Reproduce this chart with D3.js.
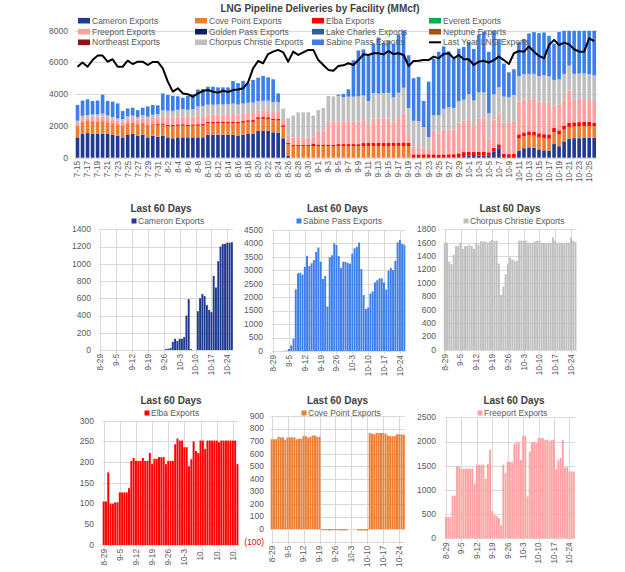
<!DOCTYPE html>
<html><head><meta charset="utf-8">
<script src="https://cdn.jsdelivr.net/npm/d3@7"></script>
<style>body{margin:0;background:#fff} svg{display:block;font-family:"Liberation Sans",Arial,sans-serif}</style>
</head><body><svg id="c" width="625" height="572"></svg>
<script>
// ---------------- DATA ----------------
const dates = ["7-15","7-16","7-17","7-18","7-19","7-20","7-21","7-22","7-23","7-24","7-25","7-26","7-27","7-28","7-29","7-30","7-31",
"8-1","8-2","8-3","8-4","8-5","8-6","8-7","8-8","8-9","8-10","8-11","8-12","8-13","8-14","8-15","8-16","8-17","8-18","8-19","8-20","8-21","8-22","8-23","8-24","8-25","8-26","8-27","8-28","8-29","8-30","8-31",
"9-1","9-2","9-3","9-4","9-5","9-6","9-7","9-8","9-9","9-10","9-11","9-12","9-13","9-14","9-15","9-16","9-17","9-18","9-19","9-20","9-21","9-22","9-23","9-24","9-25","9-26","9-27","9-28","9-29","9-30",
"10-1","10-2","10-3","10-4","10-5","10-6","10-7","10-8","10-9","10-10","10-11","10-12","10-13","10-14","10-15","10-16","10-17","10-18","10-19","10-20","10-21","10-22","10-23","10-24","10-25","10-26"];

// 7-15 .. 8-28
const cameronEarly = [1280,1500,1550,1500,1500,1500,1500,1430,1380,1280,1430,1500,1370,1450,1280,1380,1320,1380,1280,1220,1280,1280,1280,1280,1280,1280,1450,1450,1450,1450,1450,1450,1400,1450,1500,1500,1680,1700,1700,1600,1580,1220,120,0,0];
const coveEarly = [680,720,740,760,760,770,700,720,690,720,700,690,710,700,720,730,750,700,720,760,730,740,720,730,730,740,720,720,730,730,720,730,750,760,760,760,760,750,740,760,760,730,720,715,715];
const elbaEarly = [20,20,30,30,20,30,30,20,30,30,30,20,30,30,40,40,80,80,80,90,90,90,90,90,100,100,100,100,100,100,100,100,100,100,100,110,110,110,110,110,110,100,100,100,100];
const freeportEarly = [200,250,250,280,300,300,280,250,250,250,300,300,300,300,400,400,400,480,500,480,500,500,480,480,520,520,450,450,450,450,480,480,450,450,450,450,400,400,420,420,440,440,450,440,440];
const corpusEarly = [150,150,120,150,150,180,150,150,120,150,150,150,150,200,150,150,200,350,380,400,420,450,450,480,600,620,620,620,620,620,620,650,650,650,650,650,620,620,620,620,600,600,1100,1400,1600];
const sabineEarly = [990,960,990,850,870,1190,910,960,950,510,490,490,440,470,640,620,550,1060,990,950,850,720,880,940,1070,1070,1130,1130,1080,1080,1060,1420,1350,1420,1240,1430,1470,1570,1470,1430,560,0,0,0,0];

// 8-29 .. 10-26 (last 60 days panels)
const cameron60 = [0,0,0,0,0,0,0,0,0,0,0,0,0,0,0,0,0,0,0,0,0,0,0,0,0,0,0,0,0,10,15,25,95,130,105,130,130,150,400,590,10,0,0,450,600,650,625,520,465,440,860,725,1030,1200,1230,1230,1245,1245,1250];
const sabine60 = [0,0,0,0,0,10,15,75,210,460,2290,2890,2910,2840,3130,3540,3160,3260,3380,3680,3850,3320,2680,2790,1650,3490,3560,4000,3940,3530,3090,3320,3320,3270,3250,3620,3820,3870,4030,3050,2080,1560,1620,2140,2220,2550,2630,2700,2700,2550,2290,2990,3090,3010,3350,4040,4130,3980,3950];
const corpus60 = [1600,1600,1320,1280,1420,1550,1550,1600,1510,1550,1550,1570,1550,1510,1600,1570,1620,1620,1620,1600,1620,1640,1630,1630,1290,820,945,1130,1290,1380,1350,1330,1330,1630,1630,1630,1630,1600,1600,1600,1620,1630,1630,1600,1600,1590,1600,1600,1680,1630,1600,1600,1600,1580,1600,1600,1670,1630,1610];
const elba60 = [105,105,175,100,100,103,103,127,127,127,127,137,203,210,203,203,203,210,203,203,222,196,208,208,212,212,212,195,203,203,203,243,257,252,252,236,236,190,207,250,227,222,252,252,232,252,252,252,252,252,248,252,252,252,252,252,252,252,195];
const cove60 = [715,715,715,735,730,730,710,730,730,730,730,715,720,720,740,740,728,735,745,745,735,735,-10,-8,-10,-12,-10,-10,-8,-10,-10,-12,-10,-10,0,0,0,0,-12,-12,-10,-12,-12,765,760,755,765,765,765,765,760,745,740,740,740,755,755,755,750];
const freeport60 = [440,440,440,880,880,1490,1480,1440,1440,1440,1440,1440,1440,1130,1520,1520,1520,1520,1230,1540,1830,560,490,460,420,270,1520,1350,1580,1580,1570,1950,1970,1990,1620,2120,2120,860,1790,1990,1990,1970,2070,2070,2070,2030,2040,2010,2030,2040,1430,1610,1660,2030,1460,1470,1380,1380,1380];

const lastYear = [5730,6000,5730,6150,6430,6430,6050,6200,5730,5730,6110,5900,6050,6050,5840,6030,6030,5630,4790,4160,
4370,4050,4000,3840,4050,4200,4260,4160,4100,4220,4140,4260,4300,4370,4750,5630,6090,5950,6530,6680,
6790,6640,6050,6680,6470,6640,6790,6790,6150,5840,5530,5480,5780,5820,5950,5840,6150,6510,6470,6580,
6580,6510,6720,6530,6580,6470,5780,6090,6110,6150,6150,6370,6260,6530,6580,6260,6470,6200,6200,5840,
6050,6110,5990,6150,6370,6150,5900,6580,6720,6680,7000,6680,6410,6260,7100,7420,7100,7250,7140,6830,
6680,6680,7520,7350];

const legendNames = ["Cameron Exports","Cove Point Exports","Elba Exports","Everett Exports",
"Freeport Exports","Golden Pass Exports","Lake Charles Exports","Neptune Exports",
"Northeast Exports","Chorpus Christie Exports","Sabine Pass Exports","Last Year LNG Exports"];
const mainYTicks = [0,2000,4000,6000,8000];
const panelTickDates = ["8-29","9-5","9-12","9-19","9-26","10-3","10-10","10-17","10-24"];
const elbaTickLabels = ["8-29","9-5","9-12","9-19","9-26","10-3","10.","10.","10."];

// ---------------- STYLE ----------------
const COL = {
 "Cameron Exports":"#1f3a8f","Cove Point Exports":"#ed7d31","Elba Exports":"#ff0000","Everett Exports":"#00b050",
 "Freeport Exports":"#ffa0a0","Golden Pass Exports":"#0e1f5b","Lake Charles Exports":"#2e5f96","Neptune Exports":"#a5510f",
 "Northeast Exports":"#9b0e0e","Chorpus Christie Exports":"#bfbfbf","Sabine Pass Exports":"#3c7eea"
};
const TXT = "#595959", GRID = "#d9d9d9";
const svg = d3.select("#c");

// ---------------- MAIN CHART ----------------
const series = {
 "Cameron Exports": cameronEarly.concat(cameron60),
 "Cove Point Exports": coveEarly.concat(cove60),
 "Elba Exports": elbaEarly.concat(elba60),
 "Freeport Exports": freeportEarly.concat(freeport60),
 "Chorpus Christie Exports": corpusEarly.concat(corpus60),
 "Sabine Pass Exports": sabineEarly.concat(sabine60)
};
const keys = Object.keys(series);
const rows = dates.map((d,i)=>{const r={date:d}; keys.forEach(k=>r[k]=series[k][i]); return r;});
const M = {L:75, R:596.7, T:30.7, B:157.7};
const x = d3.scaleBand().domain(dates).range([M.L,M.R]).paddingInner(0.28).paddingOuter(0.14);
const y = d3.scaleLinear().domain([0,8000]).range([M.B,M.T]);

svg.append("text").attr("x",320).attr("y",12).attr("text-anchor","middle")
 .attr("font-size",10).attr("font-weight","bold").attr("fill","#404040")
 .text("LNG Pipeline Deliveries by Facility (MMcf)");

const gm = svg.append("g");
gm.selectAll("line.g").data(mainYTicks).join("line")
 .attr("x1",M.L).attr("x2",M.R+1).attr("y1",d=>Math.round(y(d))+0.5).attr("y2",d=>Math.round(y(d))+0.5)
 .attr("stroke",GRID).attr("stroke-width",1);
gm.selectAll("text.yl").data(mainYTicks).join("text")
 .attr("x",68).attr("y",d=>y(d)).attr("dy","0.33em").attr("text-anchor","end")
 .attr("font-size",8.5).attr("fill",TXT).text(d=>d);

svg.append("clipPath").attr("id","mclip").append("rect")
 .attr("x",M.L-2).attr("y",M.T).attr("width",M.R-M.L+4).attr("height",M.B-M.T+1);
const stacked = d3.stack().keys(keys).offset(d3.stackOffsetDiverging)(rows);
const gb = svg.append("g").attr("clip-path","url(#mclip)");
stacked.forEach(s=>{
  gb.append("g").attr("fill",COL[s.key]).selectAll("rect").data(s).join("rect")
   .attr("x",d=>x(d.data.date)).attr("width",x.bandwidth())
   .attr("y",d=>y(Math.max(d[0],d[1]))).attr("height",d=>Math.abs(y(d[0])-y(d[1])));
});
const line = d3.line().x((d,i)=>x(dates[i])+x.bandwidth()/2).y(d=>y(d));
svg.append("path").datum(lastYear).attr("d",line).attr("fill","none")
 .attr("stroke","#000").attr("stroke-width",2).attr("stroke-linejoin","round");

const xTicks = dates.filter((d,i)=>i%2===0);
svg.append("g").selectAll("text").data(xTicks).join("text")
 .attr("transform",d=>`translate(${x(d)+x.bandwidth()/2},161) rotate(-90)`)
 .attr("dy","0.35em").attr("text-anchor","end").attr("font-size",8.2).attr("fill",TXT).text(d=>d);

// legend
const legCols = [92,209,326,443], legRows = [20.7,31.7,42.3];
const gl = svg.append("g");
legendNames.forEach((n,i)=>{
  const cx = legCols[i%4], cy = legRows[Math.floor(i/4)];
  if(n==="Last Year LNG Exports"){
    gl.append("line").attr("x1",cx-14).attr("x2",cx-2).attr("y1",cy).attr("y2",cy).attr("stroke","#000").attr("stroke-width",2);
  } else {
    gl.append("rect").attr("x",cx-14).attr("y",cy-2.8).attr("width",12).attr("height",5.6).attr("fill",COL[n]);
  }
  gl.append("text").attr("x",cx).attr("y",cy).attr("dy","0.35em").attr("font-size",8.5).attr("fill",TXT).text(n);
});

// ---------------- SMALL MULTIPLES ----------------
const d60 = dates.slice(45);
const panels = [
 {name:"Cameron Exports", data:cameron60, L:99, R:233, top:229.3, bot:350, min:0, max:1400, step:200, labelX:91, titleX:161, textX:138, row:0},
 {name:"Sabine Pass Exports", data:sabine60, L:272, R:405.5, top:230, bot:351, min:0, max:4500, step:500, labelX:263, titleX:337.5, textX:303, row:0},
 {name:"Chorpus Christie Exports", data:corpus60, L:443.6, R:576.6, top:229.3, bot:350, min:0, max:1800, step:200, labelX:436, titleX:510, textX:470, row:0},
 {name:"Elba Exports", data:elba60, L:102.5, R:238.6, top:420.7, bot:545, min:0, max:300, step:50, labelX:94, titleX:171, textX:151, row:1, tickText:elbaTickLabels},
 {name:"Cove Point Exports", data:cove60, L:270.5, R:405, top:416, bot:541.7, min:-100, max:900, step:100, labelX:264, titleX:337.5, textX:308, row:1},
 {name:"Freeport Exports", data:freeport60, L:444.9, R:574.9, top:417.3, bot:538.3, min:0, max:2500, step:500, labelX:436, titleX:514, textX:484, row:1}
];
const titleY = [212,403.5], legY = [221,413];

panels.forEach(p=>{
  const g = svg.append("g");
  const xs = d3.scaleBand().domain(d60).range([p.L,p.R]).paddingInner(0.15).paddingOuter(0.075);
  const ys = d3.scaleLinear().domain([p.min,p.max]).range([p.bot,p.top]);
  const yt = d3.range(p.min,p.max+1,p.step);
  const cxOf = d=>xs(d)+xs.bandwidth()/2;
  // grid
  g.selectAll("line.h").data(yt).join("line")
   .attr("x1",p.L).attr("x2",p.R).attr("y1",d=>Math.round(ys(d))+0.5).attr("y2",d=>Math.round(ys(d))+0.5)
   .attr("stroke",GRID);
  g.selectAll("line.v").data(panelTickDates).join("line")
   .attr("x1",d=>Math.round(cxOf(d))+0.5).attr("x2",d=>Math.round(cxOf(d))+0.5)
   .attr("y1",p.top).attr("y2",p.bot+3).attr("stroke",GRID);
  // bars
  g.append("g").attr("fill",COL[p.name]).selectAll("rect").data(p.data).join("rect")
   .attr("x",(d,i)=>xs(d60[i])).attr("width",xs.bandwidth())
   .attr("y",d=>ys(Math.max(0,d))).attr("height",d=>Math.abs(ys(d)-ys(0)));
  // y labels
  g.selectAll("text.y").data(yt).join("text")
   .attr("x",p.labelX).attr("y",d=>ys(d)).attr("dy","0.33em").attr("text-anchor","end")
   .attr("font-size",8.5).attr("fill",d=>d<0?"#ff0000":TXT).text(d=>d<0?`(${-d})`:d);
  // x labels
  g.selectAll("text.x").data(panelTickDates).join("text")
   .attr("transform",d=>`translate(${cxOf(d)},${p.bot+4}) rotate(-90)`)
   .attr("dy","0.35em").attr("text-anchor","end").attr("font-size",8.3).attr("fill",TXT)
   .text((d,i)=>p.tickText?p.tickText[i]:d);
  // title + legend
  g.append("text").attr("x",p.titleX).attr("y",titleY[p.row]).attr("text-anchor","middle")
   .attr("font-size",10).attr("font-weight","bold").attr("fill","#404040").text("Last 60 Days");
  g.append("rect").attr("x",p.textX-6.5).attr("y",legY[p.row]-2.5).attr("width",5).attr("height",5).attr("fill",COL[p.name]);
  g.append("text").attr("x",p.textX).attr("y",legY[p.row]).attr("dy","0.35em").attr("font-size",8.5).attr("fill",TXT).text(p.name);
});
</script></body></html>
